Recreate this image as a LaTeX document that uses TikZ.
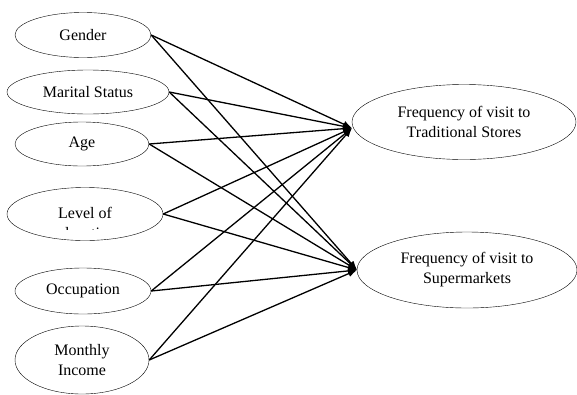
\documentclass[tikz,border=0pt]{standalone}
\usepackage{fontspec}
\setmainfont{Liberation Serif}
\usepackage{tikz}
\usetikzlibrary{positioning,calc,shapes.geometric,arrows.meta}

\tikzset{
  factor/.style={ellipse,draw,thin,inner sep=0pt,align=center,
    font=\fontsize{16}{20}\selectfont},
  link/.style={-{Latex[length=9pt,width=7pt]},line width=1.3pt}
}

\begin{document}
\begin{tikzpicture}[x=1pt,y=-1pt]
            \useasboundingbox (0,0) rectangle (577,394);

            \node[factor,minimum width=136pt,minimum height=45pt] (gender) at (83,35) {Gender};
            \node[factor,minimum width=162pt,minimum height=44pt] (marital) at (88,92) {Marital Status};
            \node[factor,minimum width=134pt,minimum height=44pt] (age) at (82,144) {Age};
            \node[factor,minimum width=156pt,minimum height=53pt] (edu) at (85,214) {};
            \node[font=\fontsize{16}{20}\selectfont,anchor=base,inner sep=0pt] (edutext) at (85,218) {Level of};
            \begin{scope}
              \clip (0,226.5) rectangle (577,229.5);
              \node[font=\fontsize{16}{20}\selectfont,anchor=base,inner sep=0pt] (edumore) at (85,238) {education};
            \end{scope}
            \node[factor,minimum width=136pt,minimum height=46pt] (occup) at (83,291) {Occupation};
            \node[factor,minimum width=134pt,minimum height=68pt] (income) at (82,360) {Monthly\\Income};

            \node[factor,minimum width=224pt,minimum height=75pt] (trad) at (464,122) {Frequency of visit to\\Traditional Stores};
            \node[factor,minimum width=220pt,minimum height=76pt] (super) at (467,270) {Frequency of visit to\\Supermarkets};

            \coordinate (tradin) at (352,128);
            \coordinate (superin) at (357,270);

            \draw[link] (gender.east) -- (tradin);
            \draw[link] (gender.east) -- (superin);
            \draw[link] (marital.east) -- (tradin);
            \draw[link] (marital.east) -- (superin);
            \draw[link] (age.east) -- (tradin);
            \draw[link] (age.east) -- (superin);
            \draw[link] (edu.east) -- (tradin);
            \draw[link] (edu.east) -- (superin);
            \draw[link] (occup.east) -- (tradin);
            \draw[link] (occup.east) -- (superin);
            \draw[link] (income.east) -- (tradin);
            \draw[link] (income.east) -- (superin);
\end{tikzpicture}
\end{document}
